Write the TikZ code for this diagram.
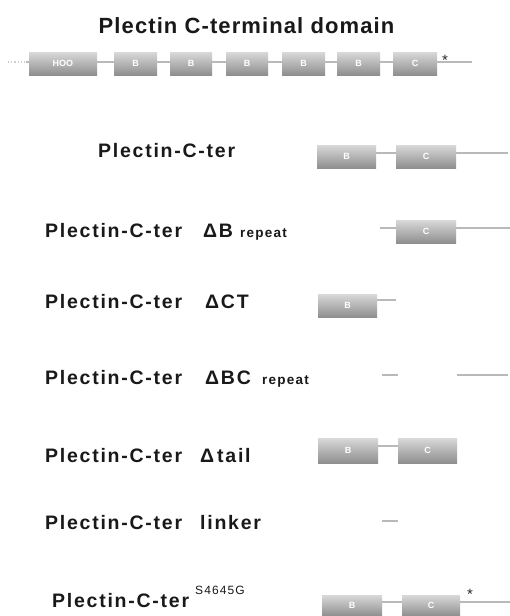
\documentclass[tikz,border=0pt]{standalone}
\usepackage{fontspec}
\setmainfont{Liberation Sans}
\newfontfamily\labfont{Liberation Sans}[LetterSpace=9]
\newfontfamily\titfont{Liberation Sans}[LetterSpace=5]
\begin{document}
\begin{tikzpicture}[x=1pt,y=-1pt,
  dom/.style={inner sep=0pt, top color=gray!30, bottom color=gray!88,
    font=\fontsize{9}{9}\selectfont\bfseries, text=white},
  link/.style={gray!55, line width=1.2pt},
  lab/.style={anchor=base west, inner sep=0pt, font=\labfont\fontsize{19.5}{19.5}\selectfont\bfseries, text=black!90},
  sml/.style={anchor=base west, inner sep=0pt, font=\labfont\fontsize{13.5}{13.5}\selectfont\bfseries, text=black!90},
  ast/.style={inner sep=0pt, font=\fontsize{15}{15}\selectfont, text=black!85}]
\useasboundingbox (0,0) rectangle (510,616);
\fill[white] (0,0) rectangle (510,616);
% title
\node[anchor=base, inner sep=0pt, font=\titfont\fontsize{22}{22}\selectfont\bfseries, text=black!90] (title) at (246.5,33) {Plectin C-terminal domain};
% row 1
\coordinate (r1s) at (8,62);
\coordinate (r1e) at (472,62);
\draw[link, dotted, gray!40] (r1s) -- ++(21,0);
\draw[link] (r1s) ++(18,0) -- (r1e);
\node[dom, minimum width=68, minimum height=23] (r1h) at (63,63.5) {HOO};
\node[dom, minimum width=43, minimum height=23] (r1b1) at (135.5,63.5) {B};
\node[dom, minimum width=42, minimum height=23] (r1b2) at (191,63.5) {B};
\node[dom, minimum width=42, minimum height=23] (r1b3) at (247,63.5) {B};
\node[dom, minimum width=43, minimum height=23] (r1b4) at (303.5,63.5) {B};
\node[dom, minimum width=43, minimum height=23] (r1b5) at (358.5,63.5) {B};
\node[dom, minimum width=44, minimum height=23] (r1c) at (415,63.5) {C};
\node[ast] (s1) at (445,60) {*};
% row 2
\node[lab] (l2) at (98,157) {Plectin-C-ter};
\coordinate (r2e) at (508,153);
\node[dom, minimum width=59, minimum height=23] (r2b) at (346.5,156.5) {B};
\node[dom, minimum width=60, minimum height=23] (r2c) at (426,156.5) {C};
\draw[link] (r2b.east |- r2e) -- (r2c.west |- r2e);
\draw[link] (r2c.east |- r2e) -- (r2e);
% row 3
\node[lab] (l3) at (45,237) {Plectin-C-ter};
\node[lab] (l3d) at (203,237) {ΔB};
\node[sml] (l3r) at (240,237) {repeat};
\coordinate (r3s) at (380,228);
\coordinate (r3e) at (510,228);
\node[dom, minimum width=60, minimum height=23] (r3c) at (426,231.5) {C};
\draw[link] (r3s) -- (r3c.west |- r3s);
\draw[link] (r3c.east |- r3e) -- (r3e);
% row 4
\node[lab] (l4) at (45,308) {Plectin-C-ter};
\node[lab] (l4d) at (205,308) {ΔCT};
\coordinate (r4e) at (396,300);
\node[dom, minimum width=59, minimum height=23] (r4b) at (347.5,305.5) {B};
\draw[link] (r4b.east |- r4e) -- (r4e);
% row 5
\node[lab] (l5) at (45,384) {Plectin-C-ter};
\node[lab] (l5d) at (205,384) {ΔBC};
\node[sml] (l5r) at (262,384) {repeat};
\coordinate (r5a) at (382,375);
\coordinate (r5b) at (398,375);
\coordinate (r5c) at (457,375);
\coordinate (r5d) at (508,375);
\draw[link] (r5a) -- (r5b);
\draw[link] (r5c) -- (r5d);
% row 6
\node[lab] (l6) at (45,462) {Plectin-C-ter};
\node[lab] (l6d) at (200,462) {Δ\hspace{3pt}tail};
\node[dom, minimum width=60, minimum height=25] (r6b) at (348,450.5) {B};
\node[dom, minimum width=59, minimum height=25] (r6c) at (427.5,450.5) {C};
\coordinate (r6y) at (388,446);
\draw[link] (r6b.east |- r6y) -- (r6c.west |- r6y);
% row 7
\node[lab] (l7) at (45,529) {Plectin-C-ter};
\node[lab] (l7d) at (200,529) {linker};
\coordinate (r7a) at (382,521);
\coordinate (r7b) at (398,521);
\draw[link] (r7a) -- (r7b);
% row 8
\node[lab] (l8) at (52,607) {Plectin-C-ter};
\node[sml, font=\labfont\fontsize{12}{12}\selectfont] (l8s) at (195,594) {S4645G};
\coordinate (r8e) at (510,602);
\node[dom, minimum width=60, minimum height=21] (r8b) at (352,605.5) {B};
\node[dom, minimum width=58, minimum height=21] (r8c) at (431,605.5) {C};
\draw[link] (r8b.east |- r8e) -- (r8c.west |- r8e);
\draw[link] (r8c.east |- r8e) -- (r8e);
\node[ast] (s8) at (470,594) {*};
\end{tikzpicture}
\end{document}
